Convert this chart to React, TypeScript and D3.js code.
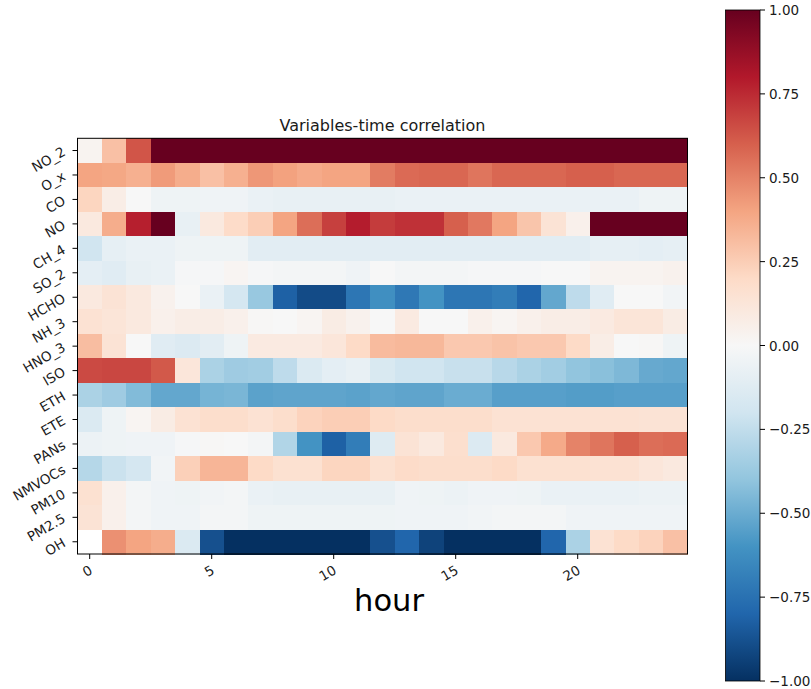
import React from "react";
import * as d3 from "d3";

// Variables (rows, top to bottom) and hours (columns)
const variables = [
  "NO_2", "O_x", "CO", "NO", "CH_4", "SO_2", "HCHO", "NH_3", "HNO_3",
  "ISO", "ETH", "ETE", "PANs", "NMVOCs", "PM10", "PM2.5", "OH",
];
const hours = d3.range(0, 25);
const hourTicks = [0, 5, 10, 15, 20];
const colorTicks = [-1, -0.75, -0.5, -0.25, 0, 0.25, 0.5, 0.75, 1];

// Correlation of each variable with time, one row per variable, hours 0..24
const NO_2 = [0.03, 0.3, 0.63, 1, 1, 1, 1, 1, 1, 1, 1, 1, 1, 1, 1, 1, 1, 1, 1, 1, 1, 1, 1, 1, 1];
const O_x = [0.4, 0.39, 0.36, 0.43, 0.37, 0.3, 0.36, 0.44, 0.41, 0.38, 0.4, 0.4, 0.52, 0.57, 0.58, 0.58, 0.54, 0.58, 0.58, 0.58, 0.6, 0.6, 0.58, 0.58, 0.58];
const CO = [0.22, 0.07, 0.0, -0.05, -0.05, -0.04, -0.04, -0.07, -0.08, -0.08, -0.08, -0.08, -0.08, -0.07, -0.07, -0.07, -0.07, -0.07, -0.07, -0.07, -0.07, -0.07, -0.07, -0.05, -0.05];
const NO = [0.1, 0.37, 0.78, 1, -0.08, 0.1, 0.19, 0.25, 0.4, 0.56, 0.69, 0.79, 0.7, 0.73, 0.73, 0.6, 0.53, 0.4, 0.28, 0.14, 0.05, 1, 1, 1, 1];
const CH_4 = [-0.2, -0.09, -0.07, -0.07, -0.05, -0.05, -0.05, -0.11, -0.11, -0.11, -0.11, -0.11, -0.11, -0.11, -0.11, -0.11, -0.11, -0.11, -0.11, -0.11, -0.11, -0.09, -0.09, -0.1, -0.09];
const SO_2 = [-0.1, -0.12, -0.08, -0.07, -0.01, -0.01, 0.02, -0.01, -0.02, -0.02, -0.02, -0.04, 0.0, -0.02, -0.02, -0.02, -0.01, -0.01, -0.01, 0.0, 0.0, 0.03, 0.03, 0.03, 0.04];
const HCHO = [0.1, 0.14, 0.1, 0.04, 0.0, -0.07, -0.18, -0.38, -0.82, -0.9, -0.9, -0.73, -0.62, -0.72, -0.6, -0.73, -0.73, -0.7, -0.8, -0.52, -0.26, -0.12, 0.0, 0.0, -0.03];
const NH_3 = [0.15, 0.13, 0.1, 0.05, 0.07, 0.07, 0.05, 0.01, 0.0, 0.02, 0.08, 0.04, 0.0, 0.09, 0.0, 0.0, 0.05, 0.02, 0.05, 0.07, 0.07, 0.09, 0.13, 0.13, 0.08];
const HNO_3 = [0.31, 0.14, 0.0, -0.12, -0.14, -0.11, -0.05, 0.09, 0.09, 0.09, 0.12, 0.2, 0.32, 0.33, 0.33, 0.27, 0.27, 0.29, 0.27, 0.27, 0.2, 0.07, 0.0, 0.01, -0.05];
const ISO = [0.66, 0.67, 0.67, 0.62, 0.12, -0.32, -0.36, -0.35, -0.26, -0.15, -0.1, -0.08, -0.16, -0.2, -0.2, -0.23, -0.23, -0.28, -0.32, -0.35, -0.4, -0.42, -0.45, -0.51, -0.52];
const ETH = [-0.32, -0.36, -0.44, -0.52, -0.52, -0.47, -0.46, -0.54, -0.53, -0.53, -0.53, -0.54, -0.52, -0.53, -0.53, -0.5, -0.5, -0.55, -0.55, -0.55, -0.56, -0.56, -0.55, -0.55, -0.55];
const ETE = [-0.15, -0.05, 0.02, 0.08, 0.15, 0.18, 0.18, 0.15, 0.18, 0.23, 0.25, 0.25, 0.2, 0.18, 0.18, 0.18, 0.18, 0.15, 0.15, 0.15, 0.15, 0.15, 0.15, 0.14, 0.14];
const PANs = [-0.06, -0.05, -0.04, -0.04, -0.01, 0.01, 0.0, -0.02, -0.3, -0.6, -0.82, -0.7, -0.13, 0.14, 0.1, 0.17, -0.14, 0.1, 0.27, 0.38, 0.5, 0.54, 0.6, 0.56, 0.57];
const NMVOCs = [-0.29, -0.22, -0.18, -0.03, 0.24, 0.34, 0.34, 0.2, 0.16, 0.16, 0.22, 0.22, 0.16, 0.19, 0.18, 0.18, 0.18, 0.2, 0.16, 0.16, 0.16, 0.15, 0.15, 0.12, 0.1];
const PM10 = [0.16, 0.05, -0.02, -0.04, -0.05, -0.03, -0.02, -0.07, -0.08, -0.08, -0.08, -0.08, -0.08, -0.04, -0.05, -0.06, -0.04, -0.04, -0.05, -0.07, -0.07, -0.07, -0.07, -0.06, -0.06];
const PM25 = [0.14, 0.05, -0.02, -0.04, -0.04, -0.02, -0.02, -0.05, -0.05, -0.05, -0.05, -0.05, -0.05, -0.04, -0.04, -0.04, -0.03, -0.02, -0.02, -0.02, -0.04, -0.04, -0.04, -0.04, -0.04];
const OH = [null, 0.46, 0.4, 0.37, -0.15, -0.88, -1, -1, -1, -1, -1, -1, -0.88, -0.8, -0.93, -1, -1, -1, -1, -0.8, -0.32, 0.15, 0.2, 0.23, 0.3];

const rows: (number | null)[][] = [
  NO_2, O_x, CO, NO, CH_4, SO_2, HCHO, NH_3, HNO_3,
  ISO, ETH, ETE, PANs, NMVOCs, PM10, PM25, OH,
];

// Diverging palette (red-blue, reversed): -1 -> dark blue, +1 -> dark red
const palette = [
  "#053061", "#2166ac", "#4393c3", "#92c5de", "#d1e5f0", "#f7f7f7",
  "#fddbc7", "#f4a582", "#d6604d", "#b2182b", "#67001f",
];
const paletteDomain = d3.range(11).map((i) => -1 + i * 0.2);

const FONT = "'DejaVu Sans', sans-serif";
const TEXT = "#1a1a1a";

export default function App() {
  const W = 811;
  const H = 689;
  const plot = { left: 77.5, right: 687.5, top: 138.3, bottom: 554 };
  const cbar = { left: 725.5, right: 760, top: 10, bottom: 681 };

  const x = d3.scaleBand<number>().domain(hours).range([plot.left, plot.right]).padding(0);
  const y = d3.scaleBand<string>().domain(variables).range([plot.top, plot.bottom]).padding(0);
  const color = d3
    .scaleLinear<string>()
    .domain(paletteDomain)
    .range(palette)
    .interpolate(d3.interpolateRgb)
    .clamp(true);
  const cy = d3.scaleLinear().domain([-1, 1]).range([cbar.bottom, cbar.top]);
  const fmt = d3.format(".2f");

  const cells: React.ReactElement[] = [];
  rows.forEach((vals, ri) => {
    vals.forEach((v, ci) => {
      if (v === null) return;
      cells.push(
        <rect
          key={`${ri}-${ci}`}
          x={x(hours[ci])!}
          y={y(variables[ri])!}
          width={x.bandwidth() + 0.6}
          height={y.bandwidth() + 0.6}
          fill={color(v)}
        />
      );
    });
  });

  return (
    <svg
      width={W}
      height={H}
      style={{ position: "absolute", left: 0, top: 0, background: "#fff" }}
      fontFamily={FONT}
    >
      <defs>
        <linearGradient id="cbarGrad" x1="0" y1="1" x2="0" y2="0">
          {palette.map((c, i) => (
            <stop key={i} offset={`${(i / (palette.length - 1)) * 100}%`} stopColor={c} />
          ))}
        </linearGradient>
      </defs>

      <text
        x={(plot.left + plot.right) / 2}
        y={131}
        textAnchor="middle"
        fontSize={16}
        fill={TEXT}
      >
        Variables-time correlation
      </text>

      <g shapeRendering="crispEdges">{cells}</g>
      <rect
        x={plot.left}
        y={plot.top}
        width={plot.right - plot.left}
        height={plot.bottom - plot.top}
        fill="none"
        stroke="#000"
        strokeWidth={1}
      />

      {/* y axis */}
      {variables.map((name) => {
        const yc = y(name)! + y.bandwidth() / 2;
        return (
          <g key={name}>
            <line x1={plot.left - 5} x2={plot.left} y1={yc} y2={yc} stroke="#000" strokeWidth={1} />
            <text
              transform={`translate(${plot.left - 11},${yc + 4}) rotate(-30)`}
              textAnchor="end"
              fontSize={13.5}
              fill={TEXT}
            >
              {name}
            </text>
          </g>
        );
      })}

      {/* x axis */}
      {hourTicks.map((h) => {
        const xc = x(h)! + x.bandwidth() / 2;
        return (
          <g key={h}>
            <line x1={xc} x2={xc} y1={plot.bottom} y2={plot.bottom + 5} stroke="#000" strokeWidth={1} />
            <text
              transform={`translate(${xc - 1.5},${plot.bottom + 10}) rotate(-30)`}
              textAnchor="end"
              dominantBaseline="hanging"
              fontSize={13.5}
              fill={TEXT}
            >
              {h}
            </text>
          </g>
        );
      })}
      <text x={389} y={611} textAnchor="middle" fontSize={30.5} fill="#000">
        hour
      </text>

      {/* colour bar */}
      <rect
        x={cbar.left}
        y={cbar.top}
        width={cbar.right - cbar.left}
        height={cbar.bottom - cbar.top}
        fill="url(#cbarGrad)"
        stroke="#000"
        strokeWidth={0.8}
      />
      {colorTicks.map((t) => (
        <g key={t}>
          <line x1={cbar.right} x2={cbar.right + 5} y1={cy(t)} y2={cy(t)} stroke="#000" strokeWidth={1} />
          <text
            x={cbar.right + 9}
            y={cy(t)}
            dominantBaseline="central"
            fontSize={13.5}
            fill={TEXT}
          >
            {fmt(t)}
          </text>
        </g>
      ))}
    </svg>
  );
}
